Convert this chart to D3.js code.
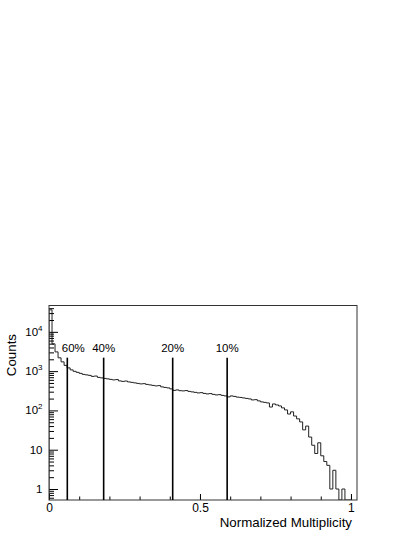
<!DOCTYPE html>
<html lang="en">
<head>
    <meta charset="UTF-8">
    <title>Normalized Multiplicity</title>
    <script src="https://d3js.org/d3.v7.min.js"></script>
    <style>
        body {
            margin: 0;
            background: white;
            font-family: "Liberation Sans", Arial, sans-serif;
        }
        svg { display: block; }
        .axis path.domain { display: none; }
        .axis line { stroke: #000; }
        .axis text { font-family: "Liberation Sans", Arial, sans-serif; fill: #000; }
    </style>
</head>
<body>
<svg></svg>
<script>
    // histogram: 100 bins of width 0.01 from 0 to 1
    const binWidth = 0.01;
    const counts = [
        36300, 4940, 3090, 2180, 1720, 1400, 1210, 1076, 986, 930,
        877, 826, 802, 779, 735, 750, 693, 673, 653, 635,
        616, 598, 610, 564, 548, 560, 532, 517, 502, 487,
        473, 480, 459, 446, 433, 421, 428, 397, 385, 374,
        353, 323, 333, 318, 314, 320, 305, 296, 288, 279,
        283, 271, 263, 268, 256, 248, 252, 241, 234, 221,
        234, 227, 218, 214, 208, 202, 196, 185, 188, 175,
        165, 160, 155, 122, 146, 138, 130, 116, 103, 81,
        92, 72, 61, 51, 32, 40, 21, 13, 8, 15,
        7, 5, 4, 1, 3, 1, 0, 1, 0, 0
    ];

    // centrality cuts
    const cutLabels = ["60%", "40%", "20%", "10%"];
    const cutValues = [0.0606, 0.181, 0.4096, 0.590];
    const cutTop = 2200;

    const xTicksMajor = [0, 0.5, 1];
    const xTicksMinor = d3.range(0, 1.01, 0.1);
    const yDecades = [1, 10, 100, 1000, 10000];
    const xDomain = [0, 1.02];
    const yDomain = [0.525, 46800];

    const W = 415, H = 537;
    const frame = { left: 49, right: 357, top: 305.5, bottom: 500 };

    const svg = d3.select("svg").attr("width", W).attr("height", H);

    const x = d3.scaleLinear().domain(xDomain).range([frame.left, frame.right]);
    const y = d3.scaleLog().domain(yDomain).range([frame.bottom, frame.top]);

    svg.append("clipPath").attr("id", "clip")
        .append("rect")
        .attr("x", frame.left).attr("y", frame.top)
        .attr("width", frame.right - frame.left)
        .attr("height", frame.bottom - frame.top);

    // histogram outline
    const pts = [[x(0), frame.bottom]];
    counts.forEach((c, i) => {
        const yy = c > 0 ? y(c) : frame.bottom;
        pts.push([x(i * binWidth), yy]);
        pts.push([x((i + 1) * binWidth), yy]);
    });
    pts.push([x(counts.length * binWidth), frame.bottom]);

    svg.append("path")
        .attr("clip-path", "url(#clip)")
        .attr("d", d3.line()(pts))
        .attr("fill", "none")
        .attr("stroke", "#222")
        .attr("stroke-width", 1);

    // x axis, ticks pointing inward
    svg.append("g").attr("class", "axis")
        .attr("transform", `translate(0,${frame.bottom})`)
        .call(d3.axisBottom(x).tickValues(xTicksMinor).tickSize(-3.5).tickFormat(""));

    const xMajor = svg.append("g").attr("class", "axis")
        .attr("transform", `translate(0,${frame.bottom})`)
        .call(d3.axisBottom(x).tickValues(xTicksMajor).tickSize(-6).tickPadding(3)
            .tickFormat(d => d === 0 ? "0" : d === 1 ? "1" : d3.format(".1f")(d)));
    xMajor.selectAll("text").style("font-size", "12px");

    // y axis, log minor ticks
    const yMinor = [];
    yDecades.forEach(d => {
        for (let k = 2; k <= 9; k++) {
            const v = d * k;
            if (v <= yDomain[1]) yMinor.push(v);
        }
    });
    for (let k = 6; k <= 9; k++) yMinor.push(k / 10);

    svg.append("g").attr("class", "axis")
        .attr("transform", `translate(${frame.left},0)`)
        .call(d3.axisLeft(y).tickValues(yMinor).tickSize(-5).tickFormat(""));

    svg.append("g").attr("class", "axis")
        .attr("transform", `translate(${frame.left},0)`)
        .call(d3.axisLeft(y).tickValues(yDecades).tickSize(-9).tickFormat(""));

    // y tick labels as 10^n
    yDecades.forEach(d => {
        const e = Math.round(Math.log10(d));
        const t = svg.append("text")
            .attr("x", 42.5)
            .attr("y", y(d))
            .attr("dy", "0.35em")
            .attr("text-anchor", "end")
            .style("font-size", "11.5px");
        if (e < 2) {
            t.text(String(d));
        } else {
            t.append("tspan").text("10");
            t.append("tspan").attr("dy", "-5").style("font-size", "8px").text(String(e));
        }
    });

    // frame
    svg.append("rect")
        .attr("x", frame.left).attr("y", frame.top)
        .attr("width", frame.right - frame.left)
        .attr("height", frame.bottom - frame.top)
        .attr("fill", "none")
        .attr("stroke", "#333")
        .attr("stroke-width", 1);

    // cut lines and labels
    cutValues.forEach((v, i) => {
        svg.append("line")
            .attr("x1", x(v)).attr("x2", x(v))
            .attr("y1", y(cutTop)).attr("y2", frame.bottom)
            .attr("stroke", "#000")
            .attr("stroke-width", 1.6);
        svg.append("text")
            .attr("x", x(v) + (i === 0 ? 6 : 0))
            .attr("y", y(cutTop) - 6)
            .attr("text-anchor", "middle")
            .style("font-size", "11.5px")
            .text(cutLabels[i]);
    });

    // axis titles
    svg.append("text")
        .attr("x", 352)
        .attr("y", 527)
        .attr("text-anchor", "end")
        .style("font-size", "13.3px")
        .text("Normalized Multiplicity");

    svg.append("text")
        .attr("transform", `translate(16,334) rotate(-90)`)
        .attr("text-anchor", "end")
        .style("font-size", "13.3px")
        .text("Counts");
</script>
</body>
</html>
